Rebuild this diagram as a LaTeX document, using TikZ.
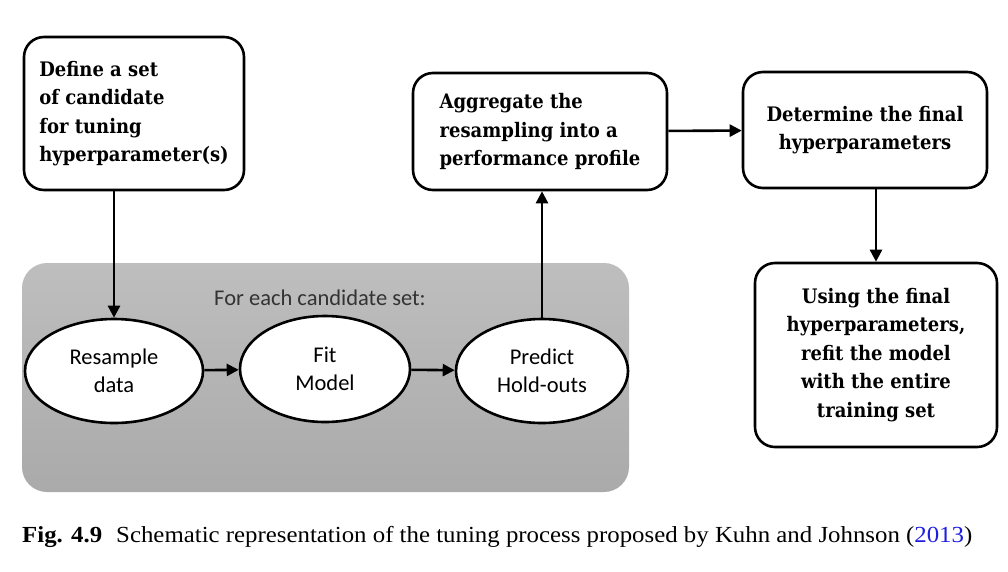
\documentclass[tikz,border=0pt]{standalone}
\usepackage{fontspec}
\setmainfont[FakeStretch=1.08]{Liberation Serif}
\newfontfamily\boxfont[FakeStretch=0.9]{DejaVu Serif}
\newfontfamily\ellfont{Carlito}
\usepackage{tikz}
\usetikzlibrary{arrows.meta,positioning,shapes.geometric}

\definecolor{loopgray}{RGB}{190,190,190}
\definecolor{loopgraydark}{RGB}{170,170,170}
\definecolor{citeblue}{RGB}{30,30,225}

\tikzset{
  stepbox/.style={draw, line width=2.6pt, rounded corners=20pt, fill=white,
    inner sep=0pt, font=\boxfont\bfseries\fontsize{20}{28.5}\selectfont},
  stage/.style={draw, ellipse, line width=2.6pt, fill=white, inner sep=0pt,
    align=center, font=\ellfont\fontsize{22.5}{28}\selectfont},
  flow/.style={line width=2.6pt, -{Triangle[length=12pt,width=12pt]}},
}

\begin{document}
\begin{tikzpicture}[x=1pt,y=-1pt]
  \useasboundingbox (0,0) rectangle (1008,571);

  % resampling loop
  \node[rounded corners=25pt, top color=loopgray, bottom color=loopgraydark,
    minimum width=607pt, minimum height=229pt, inner sep=0pt] (loop) at (325.5,377.5) {};
  \node[font=\ellfont\fontsize{22.5}{28}\selectfont, text=black!80] (looplabel) at (320,298) {For each candidate set:};

  \node[stage, minimum width=178pt, minimum height=104pt] (resample) at (114,371) {Resample\\data};
  \node[stage, minimum width=170pt, minimum height=106pt] (fit) at (325,369) {Fit\\Model};
  \node[stage, minimum width=172pt, minimum height=104pt] (predict) at (542,371) {Predict\\Hold-outs};

  % steps outside the loop
  \node[stepbox, align=left, minimum width=220pt, minimum height=153pt] (define) at (134,113.5)
    {Define a set\\of candidate\\for tuning\\hyperparameter(s)};
  \node[stepbox, align=left, minimum width=254pt, minimum height=117pt] (aggregate) at (540,131.5)
    {Aggregate the\\resampling into a\\performance profile};
  \node[stepbox, align=center, minimum width=244pt, minimum height=116pt] (final) at (865,130)
    {Determine the final\\hyperparameters};
  \node[stepbox, align=center, minimum width=242pt, minimum height=184pt] (refit) at (876,355)
    {Using the final\\hyperparameters,\\refit the model\\with the entire\\training set};

  % connectors
  \draw[flow] (define.south -| resample.north) -- (resample.north);
  \draw[flow] (resample) -- (fit);
  \draw[flow] (fit) -- (predict);
  \draw[flow] (predict.north) -- (predict.north |- aggregate.south);
  \draw[flow] (aggregate) -- (final);
  \draw[flow] (final.south -| refit.north) -- (refit.north);

  % caption
  \node[anchor=west, inner sep=0pt, font=\fontsize{23}{27}\selectfont] (caption) at (22,537)
    {\textbf{Fig. 4.9}\hspace{14pt}Schematic representation of the tuning process proposed by Kuhn and Johnson (\textcolor{citeblue}{2013})};

\end{tikzpicture}
\end{document}
